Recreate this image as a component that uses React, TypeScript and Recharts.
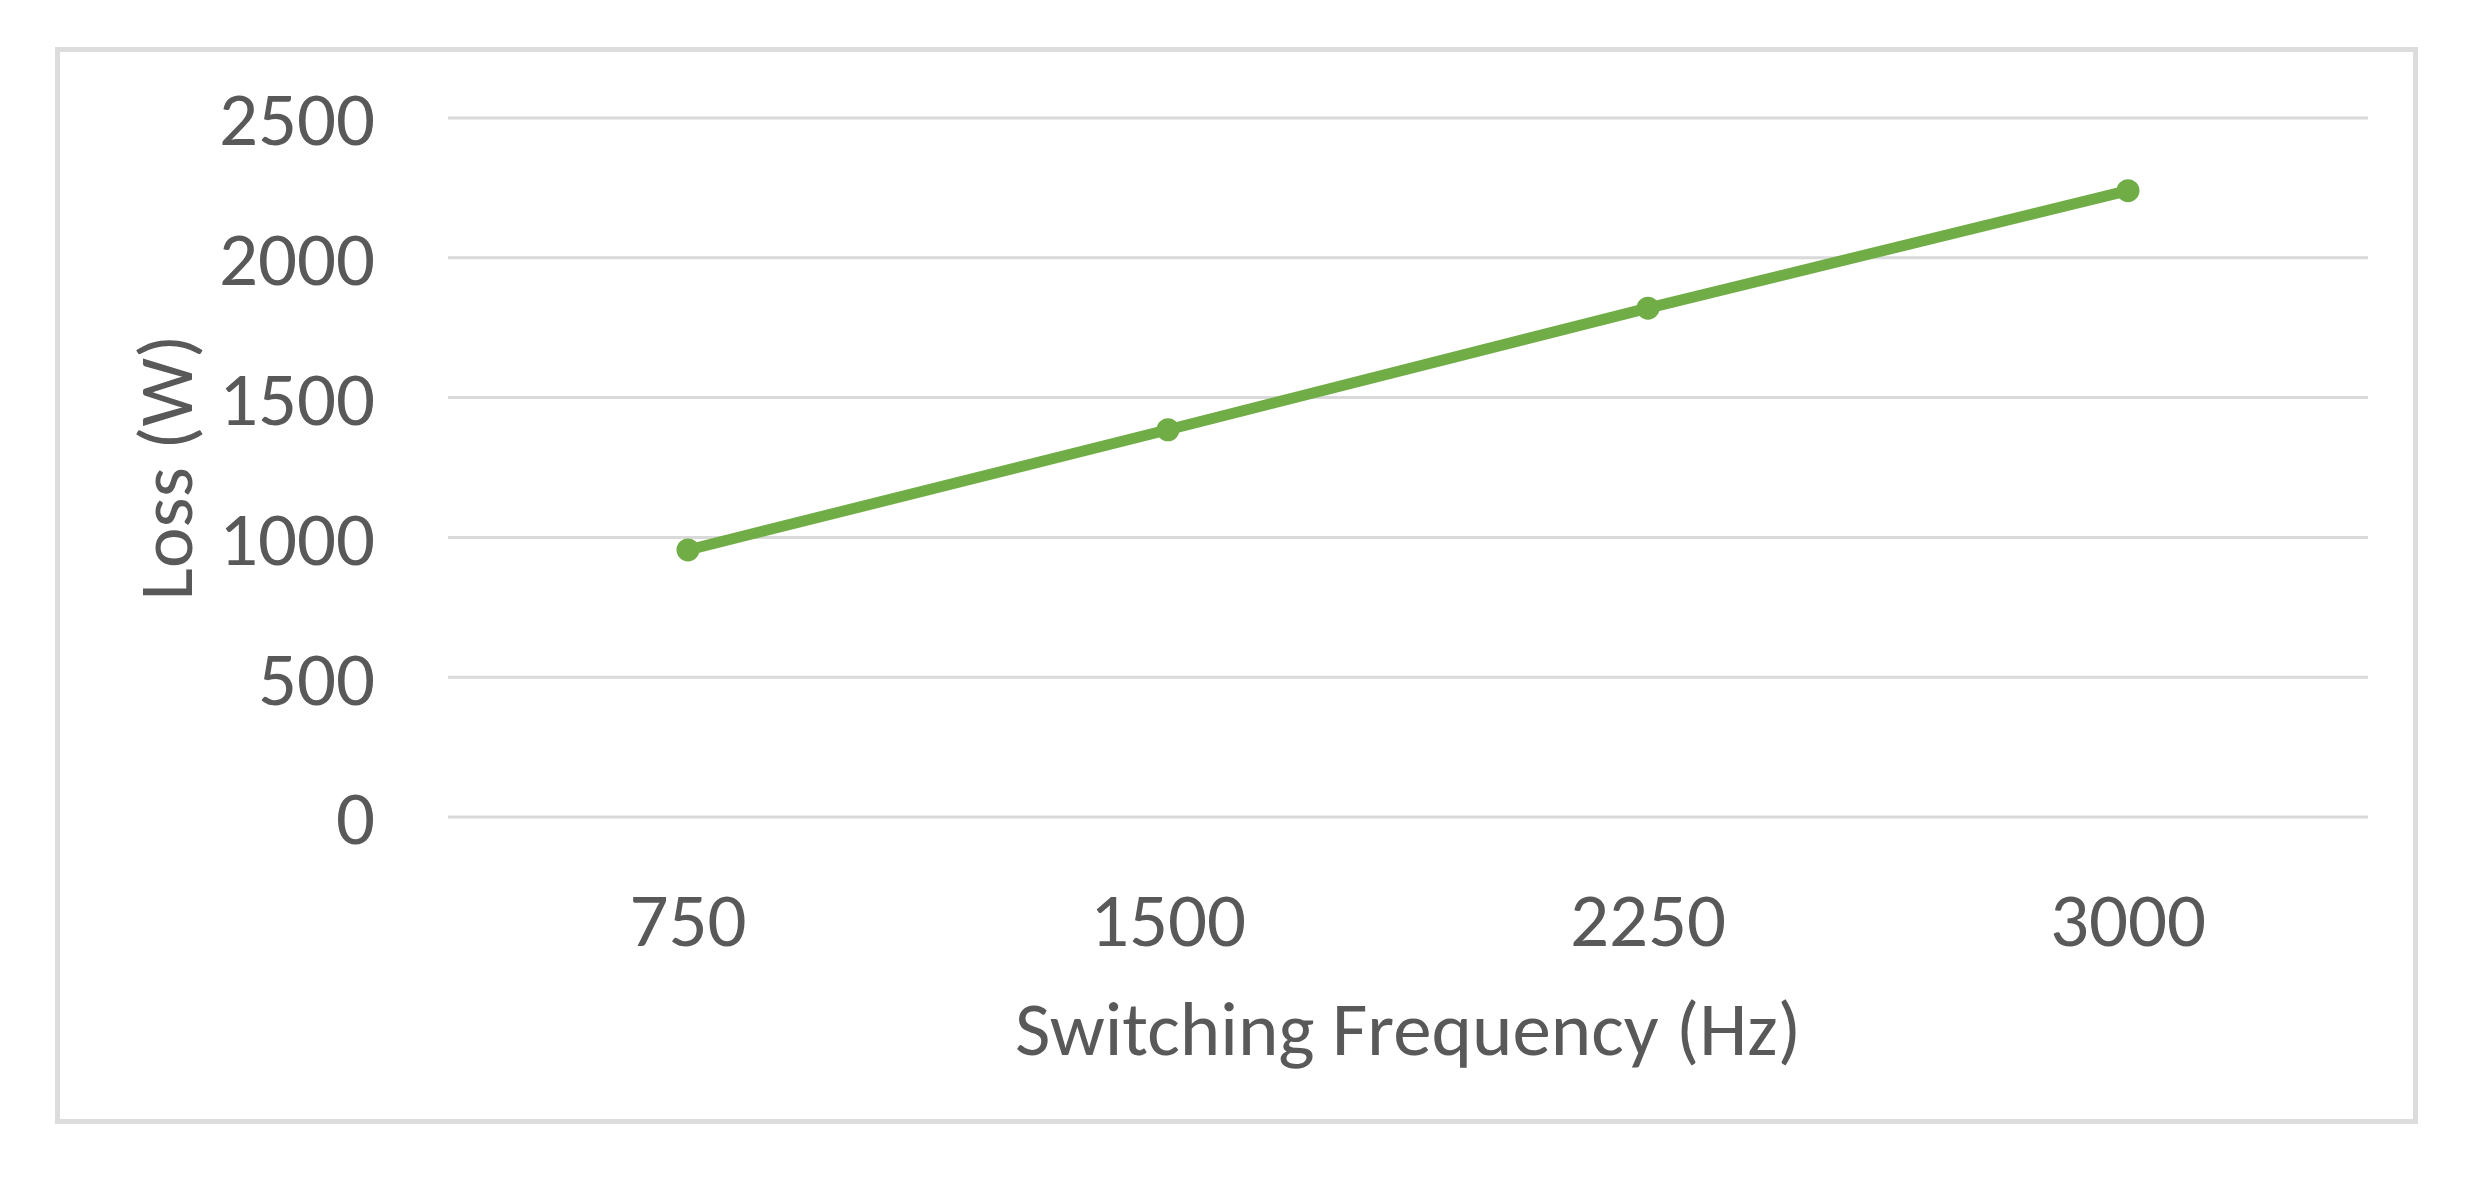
import { LineChart, Line, XAxis, YAxis, CartesianGrid, Label } from 'recharts';

const frequencies = [750, 1500, 2250, 3000];
const losses = [955, 1385, 1820, 2240];
const yTicks = [0, 500, 1000, 1500, 2000, 2500];

const data = frequencies.map((f, i) => ({ freq: f, loss: losses[i] }));

const FONT = "Carlito, Calibri, 'Open Sans', sans-serif";
const TEXT = '#595959';
const GREEN = '#70AD47';
const FS = 77;

function XTitle({ viewBox }: any) {
  const cx = viewBox.x + viewBox.width / 2;
  return (
    <text x={cx} y={viewBox.y + 238} textAnchor="middle" fill={TEXT} fontSize={FS} fontFamily={FONT}>
      Switching Frequency (Hz)
    </text>
  );
}

function YTitle({ viewBox }: any) {
  const cx = viewBox.x - 56;
  const cy = viewBox.y + viewBox.height / 2;
  return (
    <text
      x={cx}
      y={cy}
      transform={`rotate(-90 ${cx} ${cy})`}
      textAnchor="middle"
      fill={TEXT}
      fontSize={FS}
      fontFamily={FONT}
    >
      Loss (W)
    </text>
  );
}

export default function App() {
  return (
    <div style={{ position: 'absolute', left: 0, top: 0, width: 2466, height: 1184, background: '#fff' }}>
      <div
        style={{
          position: 'absolute',
          left: 55,
          top: 47,
          width: 2363,
          height: 1077,
          border: '5px solid #dcdcdc',
          boxSizing: 'border-box',
        }}
      />
      <div style={{ position: 'absolute', left: 0, top: 0 }}>
        <LineChart width={2466} height={1184} data={data} margin={{ top: 118, right: 98, bottom: 167, left: 248 }}>
          <CartesianGrid horizontal vertical={false} stroke="#d9d9d9" strokeWidth={3} />
          <XAxis
            dataKey="freq"
            type="number"
            domain={[375, 3375]}
            ticks={frequencies}
            height={200}
            axisLine={false}
            tickLine={false}
            tickSize={0}
            tickMargin={74}
            tick={{ fill: TEXT, fontSize: FS, fontFamily: FONT }}
          >
            <Label content={<XTitle />} />
          </XAxis>
          <YAxis
            type="number"
            domain={[0, 2500]}
            ticks={yTicks}
            width={200}
            axisLine={false}
            tickLine={false}
            tickSize={0}
            tickMargin={73}
            tick={{ fill: TEXT, fontSize: FS, fontFamily: FONT }}
          >
            <Label content={<YTitle />} />
          </YAxis>
          <Line
            type="linear"
            dataKey="loss"
            stroke={GREEN}
            strokeWidth={11}
            dot={{ r: 9, fill: GREEN, stroke: GREEN, strokeWidth: 5 }}
            isAnimationActive={false}
          />
        </LineChart>
      </div>
    </div>
  );
}
